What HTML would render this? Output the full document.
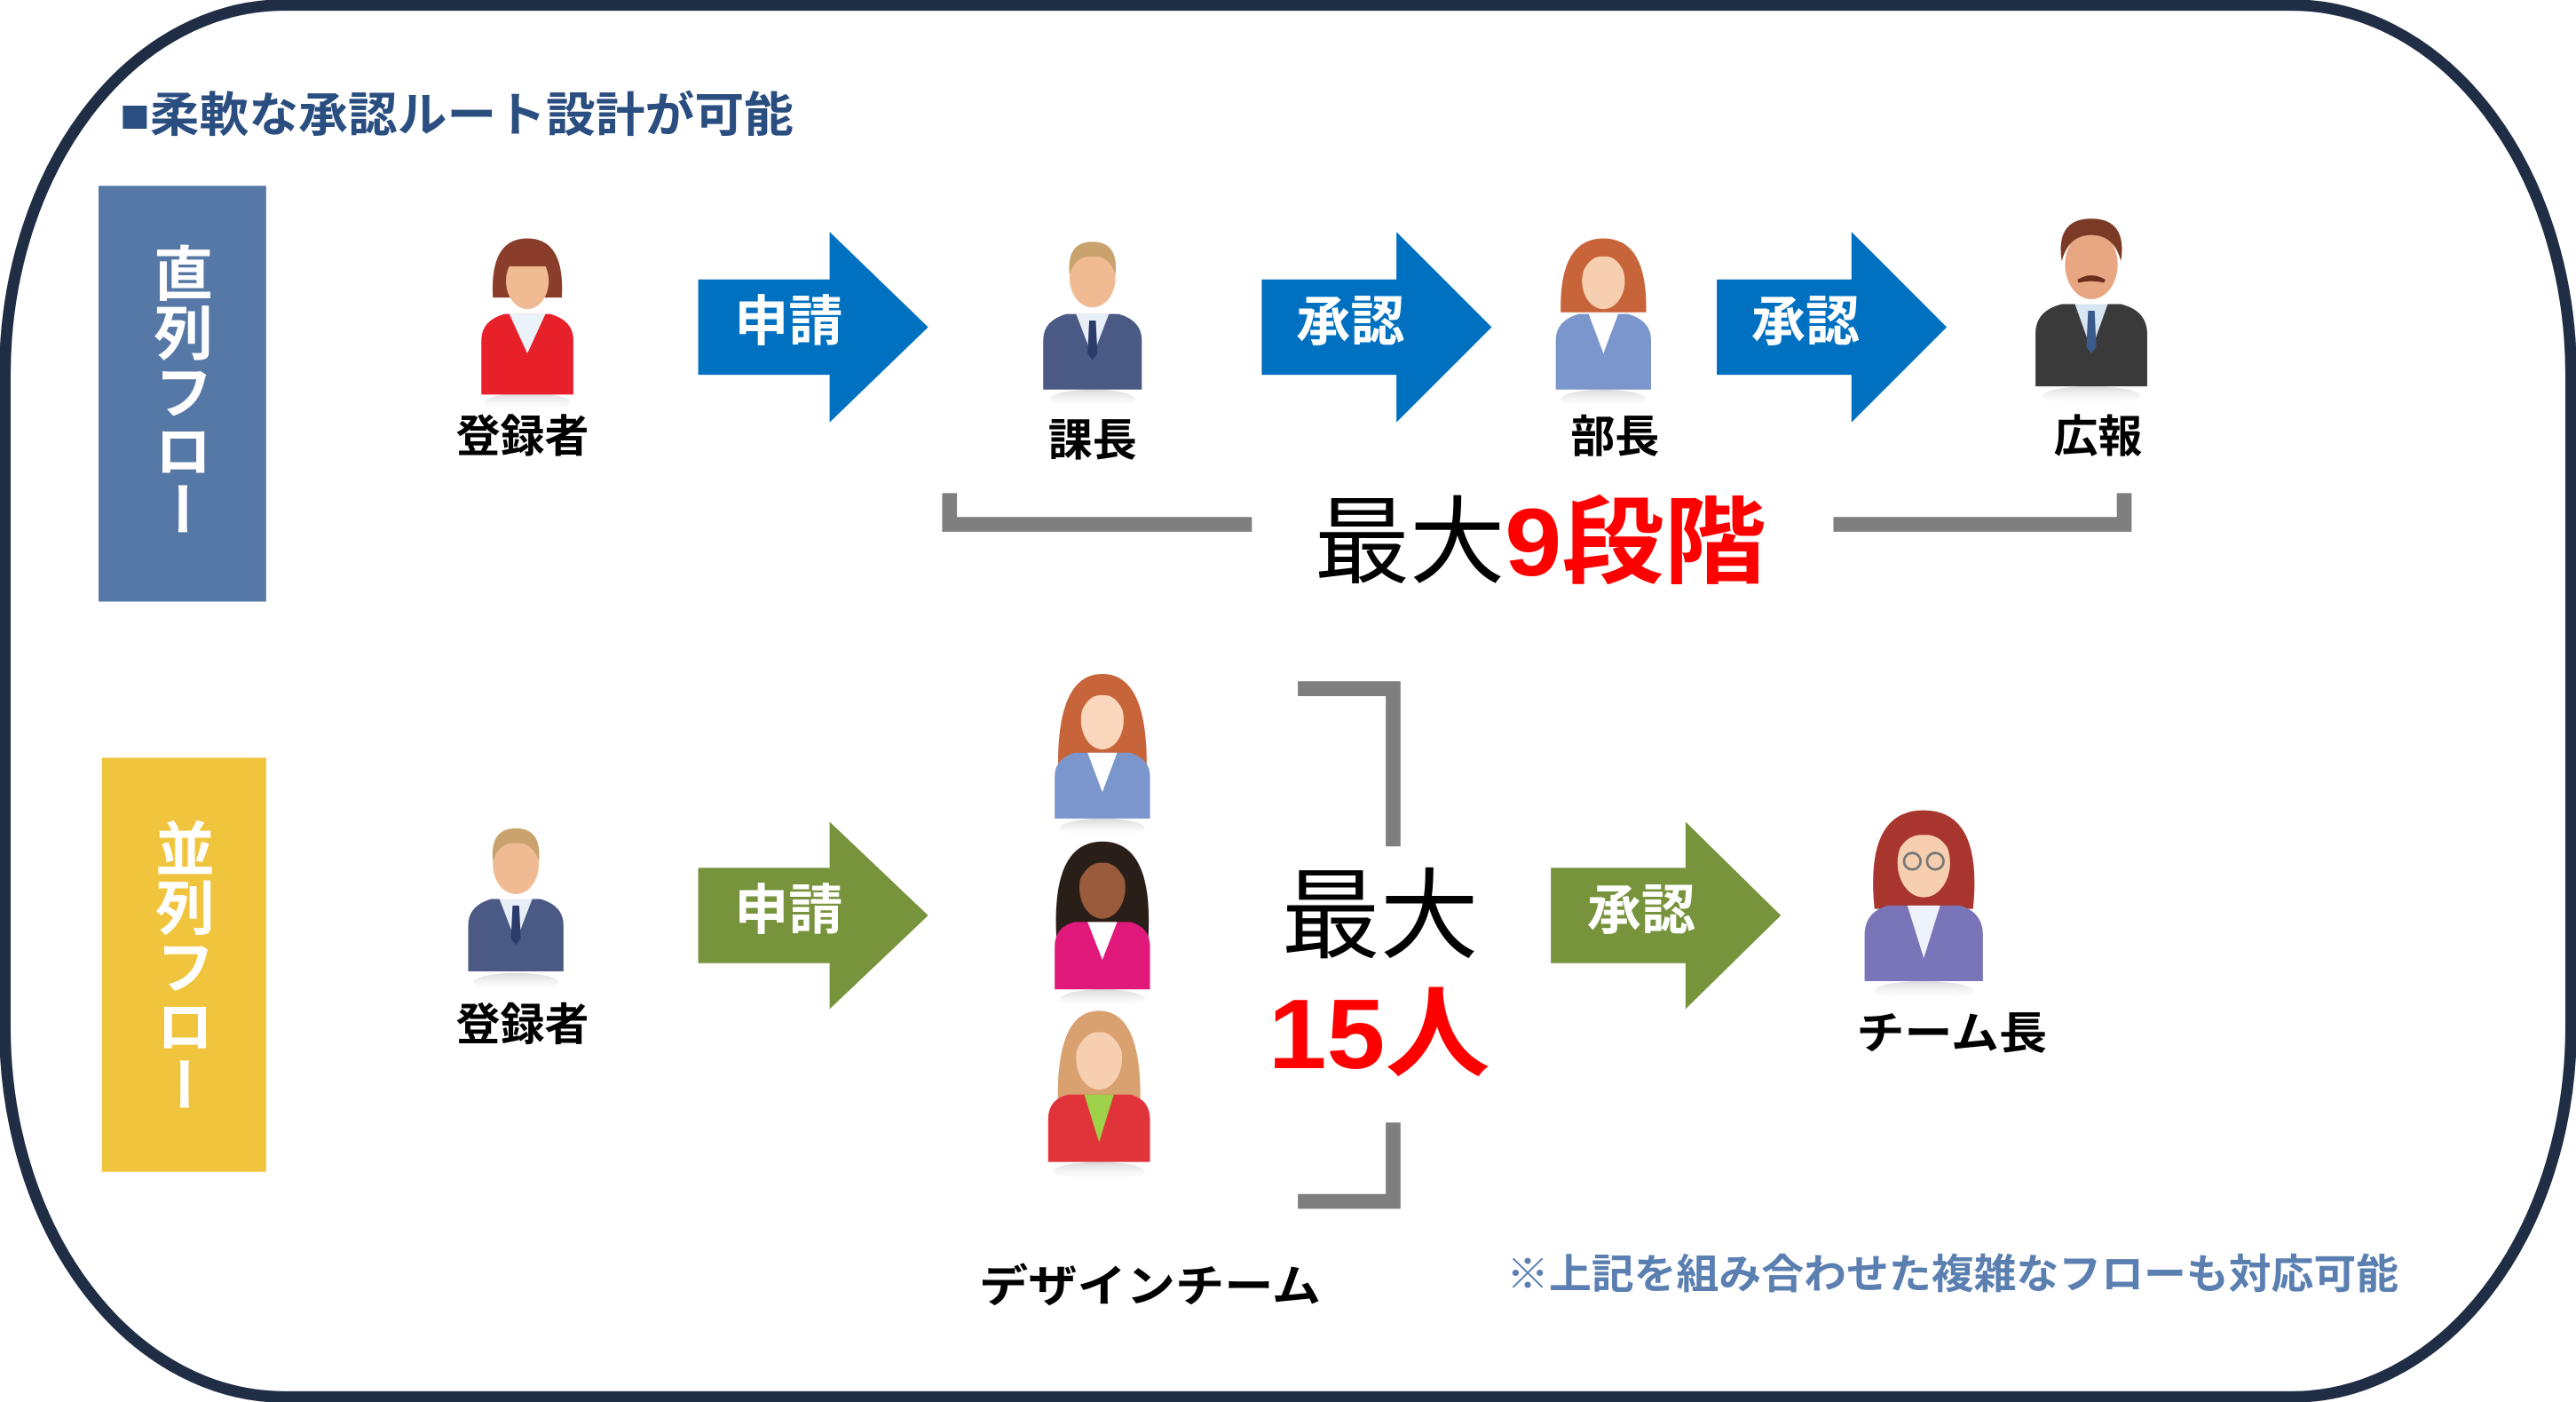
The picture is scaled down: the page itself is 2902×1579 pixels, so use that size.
<!DOCTYPE html>
<html><head><meta charset="utf-8"><style>
html,body{margin:0;padding:0;background:#fff;}
svg{display:block;}
text{font-family:"Liberation Sans","Noto Sans CJK JP",sans-serif;font-weight:bold;}
</style></head><body>
<svg width="2902" height="1579" viewBox="0 0 1568 853" xmlns="http://www.w3.org/2000/svg">
<defs>
<linearGradient id="refl" x1="0" y1="0" x2="0" y2="1"><stop offset="0" stop-color="#d8d8d8"/><stop offset="1" stop-color="#fff" stop-opacity="0"/></linearGradient>
</defs>
<rect x="3" y="3" width="1562" height="847" rx="170" ry="225" fill="#fff" stroke="#1f2d45" stroke-width="7"/>
<text x="73" y="80" font-size="29" fill="#2a4e80" textLength="410" lengthAdjust="spacingAndGlyphs">■柔軟な承認ルート設計が可能</text>

<rect x="60" y="113" width="102" height="253" fill="#5578a6"/>
<text x="106" y="238" font-size="36" fill="#fff" text-anchor="middle" style="writing-mode:vertical-rl" dominant-baseline="middle">直列フロー</text>
<rect x="62" y="461" width="100" height="252" fill="#f0c43c"/>
<text x="107" y="588" font-size="36" fill="#fff" text-anchor="middle" style="writing-mode:vertical-rl" dominant-baseline="middle">並列フロー</text>

<!-- blue arrows -->
<g fill="#0070c0">
<polygon points="425,170 505,170 505,141 565,199 505,257 505,228 425,228"/>
<polygon points="768,170 850,170 850,141 908,199 850,257 850,228 768,228"/>
<polygon points="1045,170 1127,170 1127,141 1185,199 1127,257 1127,228 1045,228"/>
</g>
<g fill="#fff" font-size="33">
<text x="447" y="207">申請</text>
<text x="789" y="207">承認</text>
<text x="1066" y="207">承認</text>
</g>
<!-- green arrows -->
<g fill="#77933c">
<polygon points="425,528 505,528 505,500 565,557 505,614 505,586 425,586"/>
<polygon points="944,528 1026,528 1026,500 1084,557 1026,614 1026,586 944,586"/>
</g>
<g fill="#fff" font-size="33">
<text x="447" y="565">申請</text>
<text x="966" y="565">承認</text>
</g>

<!-- brackets -->
<g fill="none" stroke="#7f7f7f" stroke-width="9">
<polyline points="578,300 578,319 762,319"/>
<polyline points="1116,319 1293,319 1293,300"/>
<polyline points="790,419 848,419 848,515"/>
<polyline points="848,683 848,731 790,731"/>
</g>
<text x="800" y="350" font-size="58" fill="#000" style="font-weight:normal">最大</text>
<text x="916" y="350" font-size="58" fill="#ff0000" textLength="159" lengthAdjust="spacingAndGlyphs">9段階</text>
<text x="780" y="578" font-size="60" fill="#000" style="font-weight:normal">最大</text>
<text x="772" y="650" font-size="60" fill="#ff0000" textLength="135" lengthAdjust="spacingAndGlyphs">15人</text>

<!-- labels -->
<g font-size="27" fill="#000" text-anchor="middle">
<text x="318" y="275">登録者</text>
<text x="665" y="277">課長</text>
<text x="983" y="275">部長</text>
<text x="1277" y="275">広報</text>
<text x="318" y="633">登録者</text>
<text x="700" y="792" textLength="208" lengthAdjust="spacingAndGlyphs">デザインチーム</text>
<text x="1188" y="638" textLength="116" lengthAdjust="spacingAndGlyphs">チーム長</text>
</g>
<text x="917" y="784" font-size="25" fill="#5a7fb0" textLength="543" lengthAdjust="spacingAndGlyphs">※上記を組み合わせた複雑なフローも対応可能</text>

<!-- red woman bob -->
<g transform="translate(290,145)">
<ellipse cx="31" cy="100" rx="26" ry="6" fill="url(#refl)"/>
<path d="M3,95 L3,62 Q3,50 17,46 L45,46 Q59,50 59,62 L59,95 Z" fill="#e8202a"/>
<polygon points="20,46 31,70 42,46" fill="#eaf2fa"/>
<path d="M10,36 Q8,0 31,0 Q54,0 52,36 Z" fill="#8b3d2c"/>
<ellipse cx="31" cy="26" rx="13" ry="17" fill="#f0bb92"/>
<rect x="15" y="8" width="32" height="9" fill="#8b3d2c"/>
</g>
<!-- man navy 課長 -->
<g transform="translate(633,145)">
<ellipse cx="32" cy="98" rx="26" ry="6" fill="url(#refl)"/>
<path d="M2,92 L2,62 Q2,50 16,46 L48,46 Q62,50 62,62 L62,92 Z" fill="#4a5a85"/>
<polygon points="22,46 32,72 42,46" fill="#e8eef6"/>
<polygon points="30,50 34,50 35,70 32,74 29,70" fill="#2b3c6b"/>
<ellipse cx="32" cy="24" rx="14" ry="18" fill="#f0bb92"/>
<path d="M18,22 Q16,2 32,2 Q48,2 46,22 Q42,10 32,11 Q22,10 18,22Z" fill="#c9a26e"/>
</g>
<!-- woman blue 部長 -->
<g transform="translate(945,145)">
<ellipse cx="31" cy="98" rx="26" ry="6" fill="url(#refl)"/>
<path d="M5,45 Q4,0 31,0 Q58,0 57,45 Z" fill="#c8643a"/>
<path d="M2,92 L2,62 Q2,50 16,46 L46,46 Q60,50 60,62 L60,92 Z" fill="#7a96cc"/>
<polygon points="22,46 31,70 40,46" fill="#fff"/>
<ellipse cx="31" cy="26" rx="13" ry="17" fill="#f6cfb0"/>
<path d="M17,24 Q18,6 31,6 Q44,6 45,24 Q40,10 31,11 Q22,10 17,24Z" fill="#c8643a"/>
</g>
<!-- dark man mustache 広報 -->
<g transform="translate(1237,133)">
<ellipse cx="36" cy="108" rx="30" ry="6" fill="url(#refl)"/>
<path d="M2,102 L2,70 Q2,56 18,52 L54,52 Q70,56 70,70 L70,102 Z" fill="#3a3a3a"/>
<polygon points="26,52 36,80 46,52" fill="#d7e4f2"/>
<polygon points="34,56 38,56 39,78 36,82 33,78" fill="#3a5a8c"/>
<ellipse cx="36" cy="28" rx="16" ry="21" fill="#e9a683"/>
<path d="M18,26 Q14,0 36,0 Q58,0 54,26 Q50,10 36,10 Q22,10 18,26Z" fill="#7a3a26"/>
<path d="M28,38 Q36,33 44,38 Q36,36 28,38Z" fill="#6b2d1c" stroke="#6b2d1c" stroke-width="2"/>
</g>
<!-- row2 man 登録者 -->
<g transform="translate(283,503)">
<ellipse cx="31" cy="95" rx="26" ry="6" fill="url(#refl)"/>
<path d="M2,88 L2,60 Q2,48 16,44 L46,44 Q60,48 60,60 L60,88 Z" fill="#4a5a85"/>
<polygon points="21,44 31,70 41,44" fill="#e8eef6"/>
<polygon points="29,48 33,48 34,68 31,72 28,68" fill="#2b3c6b"/>
<ellipse cx="31" cy="23" rx="14" ry="18" fill="#f0bb92"/>
<path d="M17,21 Q15,1 31,1 Q47,1 45,21 Q41,9 31,10 Q21,9 17,21Z" fill="#c9a26e"/>
</g>
<!-- design team 1 -->
<g transform="translate(640,410)">
<ellipse cx="31" cy="94" rx="26" ry="6" fill="url(#refl)"/>
<path d="M4,55 Q4,0 31,0 Q58,0 58,55 Z" fill="#c8643a"/>
<path d="M2,88 L2,62 Q2,52 14,48 L48,48 Q60,52 60,62 L60,88 Z" fill="#7a96cc"/>
<polygon points="22,48 31,72 40,48" fill="#fff"/>
<ellipse cx="31" cy="28" rx="13" ry="18" fill="#f9d6bc"/>
<path d="M17,26 Q18,6 31,6 Q44,6 45,26 Q40,12 31,13 Q22,12 17,26Z" fill="#c8643a"/>
</g>
<!-- design team 2 -->
<g transform="translate(640,512)">
<ellipse cx="31" cy="96" rx="26" ry="6" fill="url(#refl)"/>
<path d="M3,58 Q0,0 31,0 Q62,0 59,58 Z" fill="#2a1e18"/>
<path d="M2,90 L2,64 Q2,52 14,49 L48,49 Q60,52 60,64 L60,90 Z" fill="#e0197a"/>
<polygon points="22,49 31,72 40,49" fill="#fff"/>
<ellipse cx="31" cy="28" rx="14" ry="19" fill="#9a5a3c"/>
<path d="M16,26 Q17,6 31,6 Q45,6 46,26 Q40,12 31,13 Q22,12 16,26Z" fill="#2a1e18"/>
</g>
<!-- design team 3 -->
<g transform="translate(636,615)">
<ellipse cx="33" cy="98" rx="28" ry="6" fill="url(#refl)"/>
<path d="M8,60 Q6,0 33,0 Q60,0 58,60 Z" fill="#d9a070"/>
<path d="M2,92 L2,66 Q2,54 14,51 L52,51 Q64,54 64,66 L64,92 Z" fill="#e0343a"/>
<polygon points="24,51 33,80 42,51" fill="#9ed24a"/>
<ellipse cx="33" cy="29" rx="14" ry="19" fill="#f6cfb0"/>
<path d="M18,27 Q19,6 33,6 Q47,6 48,27 Q42,12 33,13 Q24,12 18,27Z" fill="#d9a070"/>
</g>
<!-- team leader -->
<g transform="translate(1133,493)">
<ellipse cx="38" cy="110" rx="30" ry="6" fill="url(#refl)"/>
<path d="M8,60 Q2,0 38,0 Q74,0 68,60 Z" fill="#a8362e"/>
<path d="M2,104 L2,76 Q2,62 16,58 L60,58 Q74,62 74,76 L74,104 Z" fill="#7a74b8"/>
<polygon points="28,58 38,90 48,58" fill="#eef2fa"/>
<ellipse cx="38" cy="32" rx="16" ry="21" fill="#f6cfb0"/>
<path d="M20,30 Q20,8 38,8 Q56,8 56,30 Q50,14 38,15 Q26,14 20,30Z" fill="#a8362e"/>
<circle cx="31" cy="31" r="5" fill="none" stroke="#777" stroke-width="1.5"/>
<circle cx="45" cy="31" r="5" fill="none" stroke="#777" stroke-width="1.5"/>
</g>
</svg>
</body></html>
